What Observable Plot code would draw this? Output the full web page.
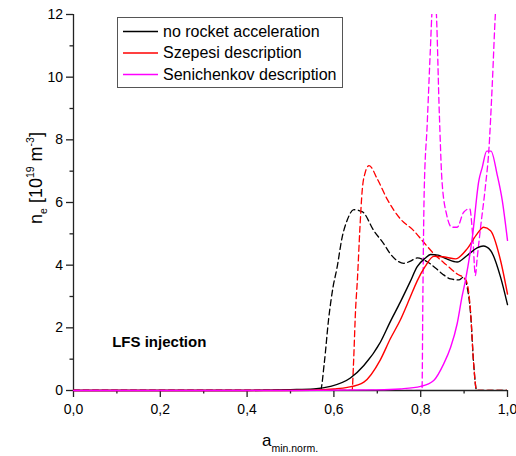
<!DOCTYPE html>
<html><head><meta charset="utf-8">
<script src="https://cdn.jsdelivr.net/npm/d3@7"></script>
<script src="https://cdn.jsdelivr.net/npm/@observablehq/plot@0.6"></script>
<style>
html,body{margin:0;padding:0;background:#fff;}
svg text{font-family:"Liberation Sans", Arial, Helvetica, sans-serif;}
</style>
</head><body><div id="chart"></div>
<script>
// ---- data ----
const legendNames = ["no rocket acceleration", "Szepesi description", "Senichenkov description"];
const legendColors = ["#000000", "#ff0000", "#ff00ff"];

const xTicks = [0, 0.2, 0.4, 0.6, 0.8, 1.0];
const xMinorTicks = [0.1, 0.3, 0.5, 0.7, 0.9];
const yTicks = [0, 2, 4, 6, 8, 10, 12];
const yMinorTicks = [1, 3, 5, 7, 9, 11];

const noRocketSolidX = [0, 0.40, 0.45, 0.50, 0.554, 0.592, 0.638, 0.669, 0.707, 0.730, 0.753, 0.775, 0.792, 0.810, 0.823, 0.840, 0.860, 0.884, 0.907, 0.930, 0.944, 0.961, 0.984, 1.0];
const noRocketSolidY = [0, 0, 0.01, 0.025, 0.05, 0.13, 0.40, 0.80, 1.54, 2.2, 2.82, 3.45, 3.95, 4.22, 4.34, 4.32, 4.20, 4.10, 4.31, 4.55, 4.61, 4.47, 3.62, 2.74];

const szepesiSolidX = [0, 0.45, 0.55, 0.60, 0.631, 0.669, 0.707, 0.730, 0.753, 0.775, 0.792, 0.810, 0.830, 0.850, 0.880, 0.907, 0.930, 0.945, 0.961, 0.984, 1.0];
const szepesiSolidY = [0, 0, 0.01, 0.05, 0.10, 0.27, 0.98, 1.65, 2.25, 2.95, 3.5, 3.95, 4.28, 4.27, 4.20, 4.52, 5.0, 5.21, 5.1, 4.15, 3.08];

const senichenkovSolidX = [0, 0.50, 0.70, 0.753, 0.80, 0.830, 0.853, 0.869, 0.884, 0.895, 0.903, 0.919, 0.934, 0.942, 0.952, 0.962, 0.976, 0.988, 1.0];
const senichenkovSolidY = [0, 0, 0.02, 0.05, 0.13, 0.32, 0.85, 1.38, 2.13, 2.98, 3.51, 4.89, 6.7, 7.13, 7.64, 7.64, 6.9, 6.06, 4.79];

const noRocketDashedX = [0, 0.569, 0.578, 0.588, 0.598, 0.607, 0.619, 0.631, 0.646, 0.666, 0.692, 0.715, 0.730, 0.745, 0.761, 0.775, 0.792, 0.810, 0.834, 0.850, 0.869, 0.888, 0.899, 0.907, 0.915, 0.922, 0.929, 1.0];
const noRocketDashedY = [0, 0, 0.9, 2.3, 3.3, 3.9, 4.89, 5.45, 5.77, 5.70, 5.10, 4.68, 4.36, 4.15, 4.06, 4.12, 4.23, 4.15, 3.91, 3.72, 3.56, 3.53, 3.62, 3.3, 2.45, 0.85, 0, 0];

const szepesiDashedX = [0, 0.642, 0.645, 0.650, 0.654, 0.660, 0.665, 0.672, 0.681, 0.700, 0.723, 0.753, 0.784, 0.807, 0.830, 0.861, 0.884, 0.903, 0.910, 0.915, 0.922, 0.929, 1.0];
const szepesiDashedY = [0, 0, 0.8, 2.6, 3.5, 5.2, 6.35, 6.95, 7.18, 6.75, 6.1, 5.48, 5.1, 4.73, 4.37, 3.99, 3.72, 3.55, 3.2, 2.5, 0.85, 0, 0];

const senichenkovDashedX = [0, 0.803, 0.805, 0.808, 0.815, 0.822, 0.827, 0.831, 0.835, 0.843, 0.849, 0.860, 0.872, 0.884, 0.899, 0.913, 0.920, 0.926, 0.930, 0.938, 0.949, 0.957, 0.965, 0.972, 0.977];
const senichenkovDashedY = [0, 0, 3.0, 6.3, 8.5, 10.8, 12.3, 12.6, 12.3, 8.8, 6.7, 5.6, 5.21, 5.21, 5.69, 5.8, 4.9, 3.67, 4.2, 5.21, 6.5, 7.66, 9.8, 12.0, 13.0];

// ---- build tables ----
function rows(name, style, xs, ys) {
  return xs.map((x, i) => ({x, y: ys[i], name, key: name + "|" + style}));
}
const dashedRows = [
  ...rows(legendNames[0], "dashed", noRocketDashedX, noRocketDashedY),
  ...rows(legendNames[1], "dashed", szepesiDashedX, szepesiDashedY),
  ...rows(legendNames[2], "dashed", senichenkovDashedX, senichenkovDashedY)
];
const solidRows = [
  ...rows(legendNames[0], "solid", noRocketSolidX, noRocketSolidY),
  ...rows(legendNames[1], "solid", szepesiSolidX, szepesiSolidY),
  ...rows(legendNames[2], "solid", senichenkovSolidX, senichenkovSolidY)
];

const axisColor = "#222";
const fmtX = d => d3.format(".1f")(d).replace(".", ",");

const plot = Plot.plot({
  width: 516,
  height: 456,
  marginLeft: 73,
  marginRight: 9,
  marginTop: 14,
  marginBottom: 66,
  x: {domain: [0, 1], label: null},
  y: {domain: [0, 12], label: null},
  color: {domain: legendNames, range: legendColors},
  marks: [
    Plot.ruleY([0], {stroke: axisColor, strokeWidth: 1.3}),
    Plot.ruleX([0], {stroke: axisColor, strokeWidth: 1.3}),
    Plot.axisX({ticks: xTicks, tickSize: 7, tickPadding: 7, tickFormat: fmtX, fontSize: 14, stroke: axisColor, strokeWidth: 1.3, fill: "#000", label: null}),
    Plot.axisX({ticks: xMinorTicks, tickSize: 3.5, tickFormat: () => "", stroke: axisColor, strokeWidth: 1.3, label: null}),
    Plot.axisY({ticks: yTicks, tickSize: 7, tickPadding: 3.5, tickFormat: d => String(d), fontSize: 14, stroke: axisColor, strokeWidth: 1.3, fill: "#000", label: null}),
    Plot.axisY({ticks: yMinorTicks, tickSize: 3.5, tickFormat: () => "", stroke: axisColor, strokeWidth: 1.3, label: null}),
    Plot.line(dashedRows, {x: "x", y: "y", z: "key", stroke: "name", strokeWidth: 1.3, strokeDasharray: "6,3.5", curve: "monotone-x", clip: true}),
    Plot.line(solidRows, {x: "x", y: "y", z: "key", stroke: "name", strokeWidth: 1.4, curve: "monotone-x"}),
    Plot.text(["LFS injection"], {text: d => d, frameAnchor: "bottom-left", dx: 38.7, dy: -48.3, textAnchor: "start", lineAnchor: "middle", fontSize: 15, fontWeight: "bold", fill: "#000"})
  ]
});

const svg = d3.select(plot);

// legend
const lg = svg.append("g").attr("text-anchor", "start");
lg.append("rect").attr("x", 117.5).attr("y", 17.5).attr("width", 225).attr("height", 70)
  .attr("fill", "#fff").attr("stroke", "#555").attr("stroke-width", 1);
const rowY = [31.5, 53, 74.5];
legendNames.forEach((n, i) => {
  lg.append("line").attr("x1", 123).attr("x2", 158).attr("y1", rowY[i]).attr("y2", rowY[i])
    .attr("stroke", legendColors[i]).attr("stroke-width", 1.3);
  lg.append("text").attr("x", 163).attr("y", rowY[i] + 5.2).attr("text-anchor", "start")
    .attr("font-size", 16).attr("fill", "#000").text(n);
});

// y label
const yl = svg.append("text").attr("transform", "translate(42,178) rotate(-90)")
  .attr("text-anchor", "middle").attr("font-size", 18).attr("fill", "#000");
yl.append("tspan").text("n");
yl.append("tspan").attr("font-size", 10.5).attr("dy", 5).text("e");
yl.append("tspan").attr("dy", -5).text(" [10");
yl.append("tspan").attr("font-size", 10.5).attr("dy", -8).text("19");
yl.append("tspan").attr("dy", 8).text(" m");
yl.append("tspan").attr("font-size", 10.5).attr("dy", -8).text("-3");
yl.append("tspan").attr("dy", 8).text("]");

// x label
const xl = svg.append("text").attr("x", 290).attr("y", 446)
  .attr("text-anchor", "middle").attr("font-size", 17).attr("fill", "#000");
xl.append("tspan").text("a");
xl.append("tspan").attr("font-size", 10.5).attr("dy", 6).text("min.norm.");

document.getElementById("chart").appendChild(plot);
</script>
</body></html>
